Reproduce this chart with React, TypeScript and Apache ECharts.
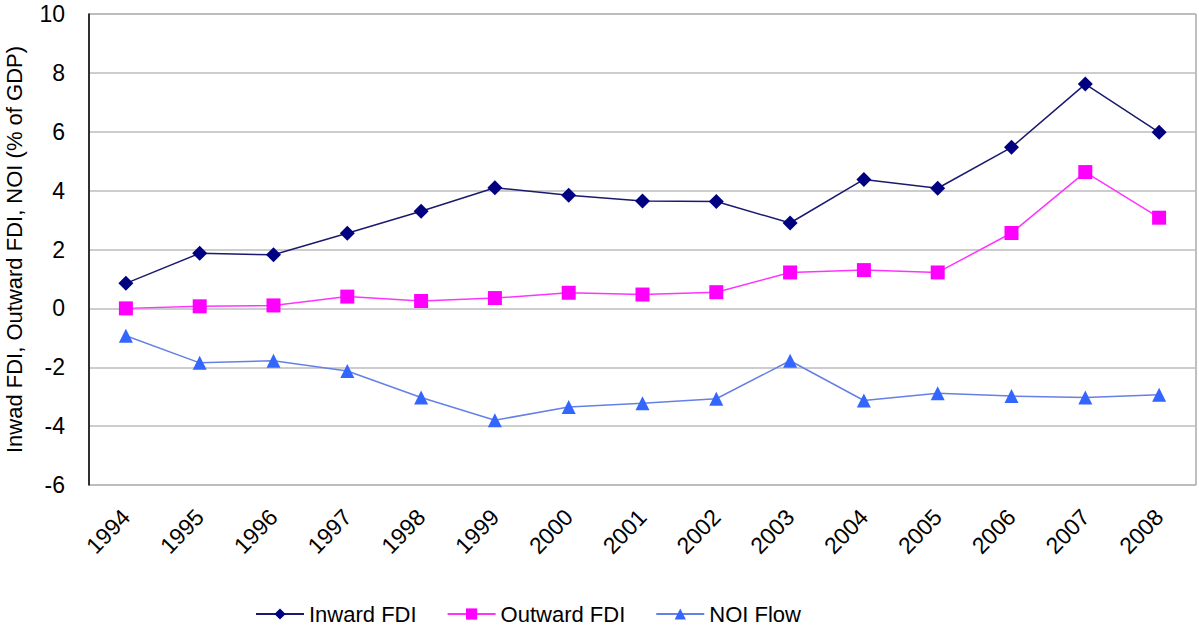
import React, { useEffect, useRef } from "react";
import * as echarts from "echarts";

const years = ["1994","1995","1996","1997","1998","1999","2000","2001","2002","2003","2004","2005","2006","2007","2008"];
const inwardFDI = [0.85, 1.87, 1.82, 2.55, 3.3, 4.1, 3.84, 3.65, 3.63, 2.9, 4.38, 4.08, 5.47, 7.62, 5.98];
const outwardFDI = [0.0, 0.07, 0.1, 0.4, 0.25, 0.35, 0.53, 0.47, 0.55, 1.22, 1.3, 1.22, 2.56, 4.63, 3.08];
const noiFlow = [-0.93, -1.85, -1.78, -2.13, -3.03, -3.8, -3.35, -3.22, -3.07, -1.78, -3.13, -2.88, -2.98, -3.03, -2.93];
const yTicks = { min: -6, max: 10, interval: 2 };

const FONT = "Arial, 'Liberation Sans', sans-serif";

export default function App() {
  const ref = useRef<HTMLDivElement>(null);
  useEffect(() => {
    if (!ref.current) return;
    const chart = echarts.init(ref.current, undefined, { renderer: "svg" });
    chart.setOption({
      animation: false,
      backgroundColor: "#ffffff",
      textStyle: { fontFamily: FONT },
      grid: {
        left: 89,
        right: 3,
        top: 14,
        bottom: 147,
        show: true,
        borderColor: "#808080",
        borderWidth: 1,
        containLabel: false,
        outerBoundsMode: "none",
      },
      legend: {
        bottom: 2,
        left: 250,
        itemWidth: 48,
        itemHeight: 14,
        itemGap: 30,
        textStyle: { fontSize: 22, color: "#000", fontFamily: FONT },
        data: ["Inward FDI", "Outward FDI", "NOI Flow"],
      },
      xAxis: {
        type: "category",
        data: years,
        boundaryGap: true,
        axisLine: { show: false },
        axisTick: { show: false },
        axisLabel: {
          rotate: 46,
          fontSize: 23,
          color: "#000",
          margin: 28,
          fontFamily: FONT,
        },
        splitLine: { show: false },
      },
      yAxis: {
        type: "value",
        min: yTicks.min,
        max: yTicks.max,
        interval: yTicks.interval,
        name: "Inwad FDI, Outward FDI, NOI (% of GDP)",
        nameLocation: "middle",
        nameGap: 64,
        nameTextStyle: { fontSize: 22, color: "#000", fontFamily: FONT },
        axisLine: { show: true, onZero: false, lineStyle: { color: "#000", width: 1.5 } },
        axisTick: { show: false },
        axisLabel: { fontSize: 23, color: "#000", margin: 24, fontFamily: FONT },
        splitLine: { show: true, lineStyle: { color: "#bdbdbd", width: 1.5 } },
      },
      series: [
        {
          name: "Inward FDI",
          type: "line",
          data: inwardFDI,
          symbol: "diamond",
          symbolSize: 15,
          itemStyle: { color: "#000080" },
          lineStyle: { color: "#1a1a6e", width: 1.5 },
        },
        {
          name: "Outward FDI",
          type: "line",
          data: outwardFDI,
          symbol: "rect",
          symbolSize: 14,
          itemStyle: { color: "#ff00ff" },
          lineStyle: { color: "#ff33ff", width: 1.5 },
        },
        {
          name: "NOI Flow",
          type: "line",
          data: noiFlow,
          symbol: "triangle",
          symbolSize: 14,
          itemStyle: { color: "#3366ff" },
          lineStyle: { color: "#6680e6", width: 1.5 },
        },
      ],
    });
    return () => chart.dispose();
  }, []);
  return <div ref={ref} style={{ width: 1199, height: 632, position: "absolute", left: 0, top: 0 }} />;
}
